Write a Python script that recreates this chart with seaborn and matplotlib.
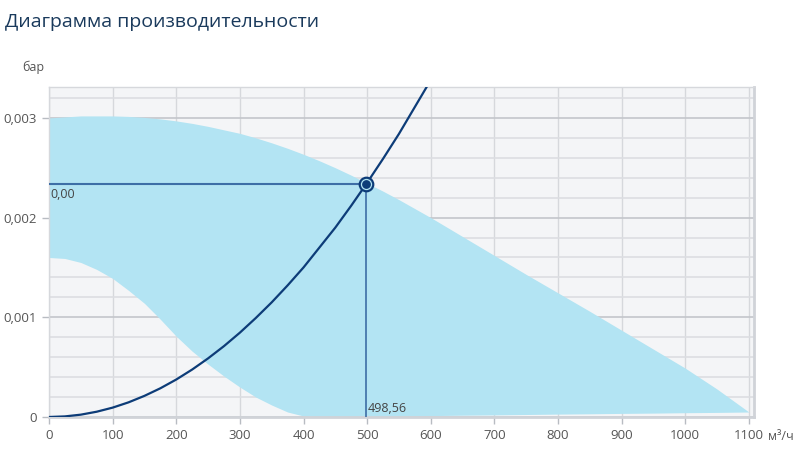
import matplotlib.pyplot as plt
import seaborn as sns
import pandas as pd
from matplotlib.ticker import MultipleLocator

# Fan working range (upper / lower edge), bar vs m³/h
flow = [0, 25, 50, 75, 100, 125, 150, 175, 200, 225, 250, 275, 300, 325,
        350, 375, 400, 425, 450, 475, 500, 525, 550, 575, 600,
        650, 700, 750, 800, 850, 900, 950, 1000, 1050, 1100]
upper = [0.003000, 0.003010, 0.003020, 0.003020, 0.003020, 0.003015,
         0.003005, 0.002990, 0.002970, 0.002945, 0.002915, 0.002880,
         0.002845, 0.002800, 0.002750, 0.002695, 0.002635, 0.002570,
         0.002500, 0.002425, 0.002345, 0.002265, 0.002180, 0.002090,
         0.002000,
         0.00181, 0.00162, 0.00143, 0.001245, 0.00106, 0.00087, 0.00068,
         0.00049, 0.00028, 0.00005]
lower = [0.00160, 0.00159, 0.00155, 0.00148, 0.00139, 0.00127, 0.00114,
         0.00098, 0.00081, 0.00066, 0.00053, 0.00041, 0.00030, 0.00020,
         0.00012, 0.00005, 0.00001, 0.000002, 0.000004, 0.000005, 0.000007,
         0.000009, 0.000011, 0.000012, 0.000014,
         0.000018, 0.000021, 0.000025, 0.000029, 0.000032, 0.000036,
         0.000039, 0.000043, 0.000046, 0.00005]

# System curve
sys_flow = [0, 25, 50, 75, 100, 125, 150, 175, 200, 225, 250, 275, 300,
            325, 350, 375, 400, 425, 450, 475, 500, 525, 550, 575, 600]
sys_pressure = [0.0, 0.000006, 0.0000235, 0.000053, 0.000094, 0.000147,
                0.000212, 0.000288, 0.000376, 0.000476, 0.000588, 0.000711,
                0.000846, 0.000993, 0.00115, 0.00132, 0.00150, 0.00170,
                0.00190, 0.00212, 0.00235, 0.00259, 0.00284, 0.00311,
                0.00338]

# Operating point
op_flow = 498.56
op_pressure = 0.00234

x_ticks = [0, 100, 200, 300, 400, 500, 600, 700, 800, 900, 1000, 1100]
y_ticks = [0, 0.001, 0.002, 0.003]
y_tick_labels = ["0", "0,001", "0,002", "0,003"]

sns.set_style("white")
plt.rcParams["font.family"] = ["Open Sans", "DejaVu Sans"]

fig = plt.figure(figsize=(8.08, 4.68), dpi=100)
ax = fig.add_axes([49 / 808, 1 - 417 / 468, 705 / 808, 330 / 468])
ax.set_facecolor("#f4f5f7")

# Grid
ax.set_xlim(0, 1108)
ax.set_ylim(0, 0.00331)
ax.xaxis.set_major_locator(MultipleLocator(100))
ax.yaxis.set_major_locator(MultipleLocator(0.001))
ax.yaxis.set_minor_locator(MultipleLocator(0.0002))
ax.grid(which="major", axis="y", color="#c3c6cb", linewidth=1.2)
ax.grid(which="minor", axis="y", color="#dcdee2", linewidth=1.2)
ax.grid(which="major", axis="x", color="#d6d8dc", linewidth=1.0)
ax.set_axisbelow(True)

# Working range
ax.fill_between(flow, lower, upper, color="#b3e4f3", linewidth=0, zorder=2)

# System curve
df_sys = pd.DataFrame({"flow": sys_flow, "pressure": sys_pressure})
sns.lineplot(data=df_sys, x="flow", y="pressure", ax=ax, color="#0d3c78",
             linewidth=1.6, zorder=4)

# Operating point guides
ax.plot([0, op_flow], [op_pressure, op_pressure], color="#3d6ea6",
        linewidth=1.5, zorder=3)
ax.plot([op_flow, op_flow], [0, op_pressure], color="#3d6ea6",
        linewidth=1.2, zorder=3)
ax.scatter([op_flow], [op_pressure], s=95, facecolor="#b3e4f3",
           edgecolor="#0d3c78", linewidth=1.6, zorder=5)
ax.scatter([op_flow], [op_pressure], s=28, color="#0d3c78", zorder=6)

ax.text(2, op_pressure - 0.00004, "0,00", fontsize=9, color="#444444",
        va="top", ha="left", zorder=6)
ax.text(op_flow + 3, 0.00002, "498,56", fontsize=9, color="#444444",
        va="bottom", ha="left", zorder=6)

# Axes
ax.set_xticks(x_ticks)
ax.set_yticks(y_ticks)
ax.set_yticklabels(y_tick_labels)
ax.tick_params(axis="both", labelsize=9.5, labelcolor="#555555",
               color="#b8bcc2", length=5, width=1, direction="out",
               left=True, bottom=True)
ax.tick_params(axis="y", which="minor", length=0)
ax.set_xlabel("")
ax.set_ylabel("")

for side in ["top", "left"]:
    ax.spines[side].set_color("#d6d8dc")
    ax.spines[side].set_linewidth(1.0)
for side in ["bottom", "right"]:
    ax.spines[side].set_color("#d0d3d8")
    ax.spines[side].set_linewidth(2.0)

fig.text(5 / 808, 1 - 22 / 468, "Диаграмма производительности",
         fontsize=14, color="#1a3a5c", va="center", ha="left")
fig.text(22 / 808, 1 - 67 / 468, "бар", fontsize=9, color="#555555",
         va="center", ha="left")
fig.text(768 / 808, 1 - 437 / 468, "м³/ч", fontsize=9, color="#555555",
         va="center", ha="left")

fig.savefig("out.png", dpi=100)
plt.close()
